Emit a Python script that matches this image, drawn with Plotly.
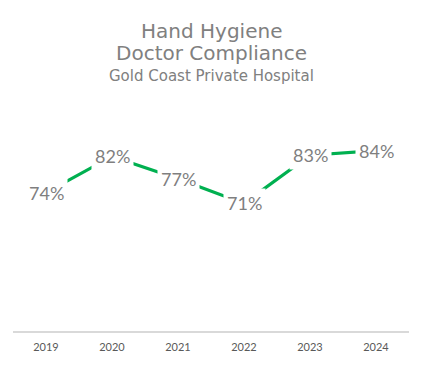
import plotly.graph_objects as go

years = ["2019", "2020", "2021", "2022", "2023", "2024"]
compliance = [73.6, 82.4, 77.0, 71.0, 82.7, 83.8]
title_lines = ["Hand Hygiene", "Doctor Compliance", "Gold Coast Private Hospital"]

fig = go.Figure()
fig.add_trace(go.Scatter(
    x=years, y=compliance, mode="lines",
    line=dict(color="#00B050", width=3.2),
    hoverinfo="skip", showlegend=False,
))

for i, v in enumerate(compliance):
    fig.add_annotation(
        x=i, y=v, xref="x", yref="y", text=f"{v:.0f}%", showarrow=False,
        bgcolor="white", borderpad=3,
        font=dict(family="Lato", size=18, color="#7f7f7f"),
    )

title_pos = [(30, 20, "DejaVu Sans"), (53, 20, "DejaVu Sans"), (76, 15, "DejaVu Sans")]
for txt, (py, sz, fam) in zip(title_lines, title_pos):
    fig.add_annotation(
        x=0.5, xref="paper", y=(334 - py) / 250, yref="paper", yanchor="middle",
        text=txt, showarrow=False,
        font=dict(family=fam, size=sz, color="#808080"),
    )

fig.update_layout(
    width=425, height=365,
    margin=dict(l=13, r=16, t=84, b=31),
    paper_bgcolor="white", plot_bgcolor="white",
    xaxis=dict(type="category", range=[-0.5, 5.5], showline=True, linecolor="#d9d9d9",
               linewidth=1.5, showgrid=False, zeroline=False, ticks="",
               ticklabelstandoff=5,
               tickfont=dict(family="Lato", size=11, color="#595959")),
    yaxis=dict(range=[40, 100], visible=False, showgrid=False, zeroline=False),
)

fig.write_html("out.html", config={"displayModeBar": False},
               post_script="document.body.style.margin='0';")
